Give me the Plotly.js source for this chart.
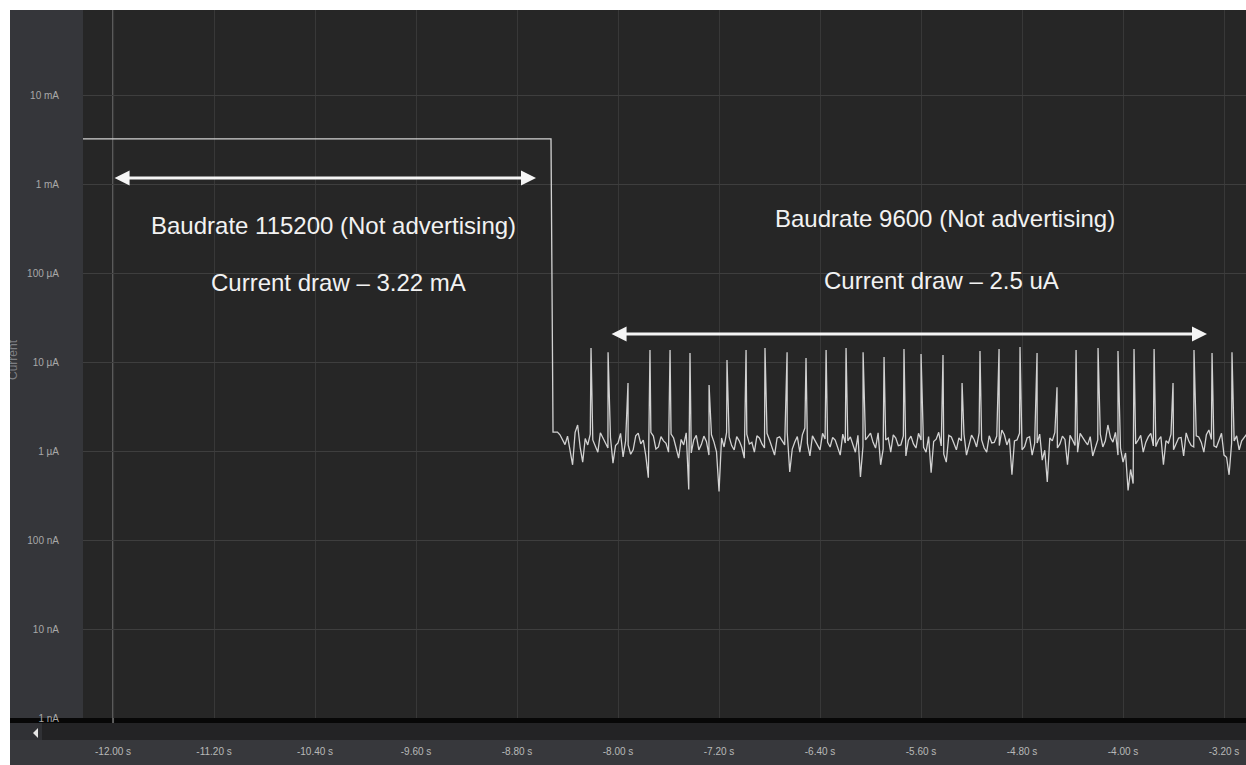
<!DOCTYPE html>
<html>
<head>
<meta charset="utf-8">
<script src="https://cdn.plot.ly/plotly-3.0.1.min.js"></script>
<style>
  html, body { margin: 0; padding: 0; background: #ffffff; }
  #wrap { position: relative; width: 1246px; height: 765px; }
  #chart { width: 1246px; height: 765px; }
  #edge { position: absolute; left: 0; top: 0; width: 10px; height: 765px; background: #ffffff; }
</style>
</head>
<body>
<div id="wrap"><div id="chart"></div><div id="edge"></div></div>
<script>
// ---------------- DATA ----------------
// Time axis ticks (seconds)
const tickTimes  = [-12.0, -11.2, -10.4, -9.6, -8.8, -8.0, -7.2, -6.4, -5.6, -4.8, -4.0, -3.2];
const tickLabels = ["-12.00 s", "-11.20 s", "-10.40 s", "-9.60 s", "-8.80 s", "-8.00 s",
                    "-7.20 s", "-6.40 s", "-5.60 s", "-4.80 s", "-4.00 s", "-3.20 s"];

// Current axis ticks (µA)
const currentTicks  = [0.001, 0.01, 0.1, 1, 10, 100, 1000, 10000];
const currentLabels = ["1 nA", "10 nA", "100 nA", "1 µA", "10 µA", "100 µA", "1 mA", "10 mA"];

// Baudrate 115200 phase: flat 3.22 mA (values in µA)
const activeTime    = [-12.30, -8.531];
const activeCurrent = [3220, 3220];

// Drop to sleep level
const dropTime    = [-8.515];
const dropCurrent = [1.63];

// Baudrate 9600 phase: baseline noise samples (µA)
const noiseTime = [
  -8.48,-8.44,-8.40,-8.36,-8.32,-8.28,-8.24,-8.20,-8.16,-8.12,
  -8.08,-8.04,-8.00,-7.96,-7.92,-7.88,-7.84,-7.80,-7.76,-7.72,
  -7.68,-7.64,-7.60,-7.56,-7.52,-7.48,-7.44,-7.40,-7.36,-7.32,
  -7.28,-7.24,-7.20,-7.16,-7.12,-7.08,-7.04,-7.00,-6.96,-6.92,
  -6.88,-6.84,-6.80,-6.76,-6.72,-6.68,-6.64,-6.60,-6.56,-6.52,
  -6.48,-6.44,-6.40,-6.36,-6.32,-6.28,-6.24,-6.20,-6.16,-6.12,
  -6.08,-6.04,-6.00,-5.96,-5.92,-5.88,-5.84,-5.80,-5.76,-5.72,
  -5.68,-5.64,-5.60,-5.56,-5.52,-5.48,-5.44,-5.40,-5.36,-5.32,
  -5.28,-5.24,-5.20,-5.16,-5.12,-5.08,-5.04,-5.00,-4.96,-4.92,
  -4.88,-4.84,-4.80,-4.76,-4.72,-4.68,-4.64,-4.60,-4.56,-4.52,
  -4.48,-4.44,-4.40,-4.36,-4.32,-4.28,-4.24,-4.20,-4.16,-4.12,
  -4.08,-4.04,-4.00,-3.96,-3.92,-3.88,-3.84,-3.80,-3.76,-3.72,
  -3.68,-3.64,-3.60,-3.56,-3.52,-3.48,-3.44,-3.40,-3.36,-3.32,
  -3.28,-3.24,-3.20,-3.16,-3.12,-3.08,-3.04,-3.00
];
const noiseCurrent = [
  1.63,1.33,1.47,0.70,1.96,0.75,1.17,1.33,0.97,1.40,
  1.08,0.73,1.23,0.86,1.17,1.03,1.59,1.33,0.50,1.47,
  1.11,1.30,0.97,1.40,0.83,1.17,0.37,1.33,1.03,1.47,
  0.90,1.26,0.35,1.11,1.44,1.03,1.30,0.83,1.20,0.97,
  1.40,1.08,1.33,0.90,1.44,1.17,0.58,1.26,0.97,1.81,
  0.88,1.30,1.03,1.36,1.11,1.33,0.90,1.23,1.44,0.97,
  0.51,1.33,1.59,1.08,0.70,1.33,0.97,1.40,1.17,0.88,
  1.47,1.08,1.33,0.97,0.57,1.36,1.14,0.75,1.44,1.03,
  1.30,0.90,1.51,1.11,1.33,0.97,1.23,1.47,1.72,1.17,
  0.54,1.33,1.03,1.40,0.90,1.23,0.79,0.45,1.30,1.08,
  1.47,0.70,1.33,0.97,1.40,1.17,0.88,1.33,1.11,1.96,
  1.26,0.90,0.75,0.36,0.43,1.33,0.97,1.44,1.14,1.33,
  0.70,1.23,1.03,1.40,0.88,1.30,1.11,1.44,0.97,1.72,
  1.14,1.33,0.90,0.54,1.30,1.03,1.40,1.17
];

// Intermediate baseline samples (µA)
const noiseMidTime = [
  -8.46,-8.42,-8.38,-8.34,-8.30,-8.26,-8.22,-8.18,-8.14,-8.10,
  -8.06,-8.02,-7.98,-7.94,-7.90,-7.86,-7.82,-7.78,-7.74,-7.70,
  -7.66,-7.62,-7.58,-7.54,-7.50,-7.46,-7.42,-7.38,-7.34,-7.30,
  -7.26,-7.22,-7.18,-7.14,-7.10,-7.06,-7.02,-6.98,-6.94,-6.90,
  -6.86,-6.82,-6.78,-6.74,-6.70,-6.66,-6.62,-6.58,-6.54,-6.50,
  -6.46,-6.42,-6.38,-6.34,-6.30,-6.26,-6.22,-6.18,-6.14,-6.10,
  -6.06,-6.02,-5.98,-5.94,-5.90,-5.86,-5.82,-5.78,-5.74,-5.70,
  -5.66,-5.62,-5.58,-5.54,-5.50,-5.46,-5.42,-5.38,-5.34,-5.30,
  -5.26,-5.22,-5.18,-5.14,-5.10,-5.06,-5.02,-4.98,-4.94,-4.90,
  -4.86,-4.82,-4.78,-4.74,-4.70,-4.66,-4.62,-4.58,-4.54,-4.50,
  -4.46,-4.42,-4.38,-4.34,-4.30,-4.26,-4.22,-4.18,-4.14,-4.10,
  -4.06,-4.02,-3.98,-3.94,-3.90,-3.86,-3.82,-3.78,-3.74,-3.70,
  -3.66,-3.62,-3.58,-3.54,-3.50,-3.46,-3.42,-3.38,-3.34,-3.30,
  -3.26,-3.22,-3.18,-3.14,-3.10,-3.06,-3.02
];
const noiseMidCurrent = [
  1.52,1.18,1.05,1.62,1.10,1.38,1.55,1.12,1.60,1.25,
  1.42,1.15,1.58,1.30,0.92,1.48,1.20,0.88,1.62,1.05,
  1.45,1.22,1.55,1.08,1.35,1.60,0.95,1.50,1.18,1.28,
  1.52,0.98,1.40,1.62,1.15,1.45,1.10,1.55,1.25,1.48,
  1.20,1.58,1.12,1.40,1.30,1.62,1.05,1.45,1.52,1.22,
  1.48,1.15,1.58,1.25,1.42,1.08,1.55,1.30,1.18,1.50,
  1.12,1.45,1.25,1.60,1.05,1.40,1.52,1.15,1.48,1.32,
  1.20,1.58,1.10,1.45,1.28,1.62,0.92,1.50,1.22,1.40,
  1.55,1.18,1.35,1.60,1.08,1.48,1.25,1.15,1.52,1.38,
  1.30,1.58,1.12,1.45,1.22,1.55,1.02,1.40,1.62,1.20,
  1.35,1.50,1.15,1.58,1.28,1.45,1.10,1.55,1.30,1.42,
  1.62,1.08,0.95,0.62,1.20,1.50,1.25,1.58,1.12,1.45,
  1.30,1.55,1.18,1.42,1.60,1.15,1.48,1.25,1.52,1.35,
  1.10,1.58,0.85,1.22,1.48,1.30,1.55
];

// Baudrate 9600 phase: periodic spikes (µA)
const spikeTime = [
  -8.214,-8.079,-7.921,-7.747,-7.588,-7.430,-7.279,-7.137,-6.986,-6.836,
  -6.661,-6.511,-6.352,-6.194,-6.059,-5.893,-5.735,-5.600,-5.426,-5.275,
  -5.133,-4.982,-4.816,-4.681,-4.523,-4.372,-4.198,-4.040,-3.913,-3.754,
  -3.604,-3.438,-3.295,-3.137
];
const spikeCurrent = [
  14.4,12.9,5.8,13.6,13.6,12.6,5.5,10.5,13.6,14.4,
  12.9,11.1,13.6,14.4,12.9,11.4,14.0,12.3,12.0,5.8,
  13.3,14.0,14.7,12.6,5.2,13.6,14.4,13.3,14.0,14.0,
  5.8,13.6,12.6,12.9
];

// Annotation texts
const leftTitle  = "Baudrate 115200 (Not advertising)";
const leftDraw   = "Current draw \u2013 3.22 mA";
const rightTitle = "Baudrate 9600 (Not advertising)";
const rightDraw  = "Current draw \u2013 2.5 uA";

// Marker / cursor time
const cursorTime = -12.0;

// ---------------- BUILD TRACE ----------------
const sleepPts = [];
noiseTime.forEach((t, i) => sleepPts.push([t, noiseCurrent[i]]));
noiseMidTime.forEach((t, i) => sleepPts.push([t, noiseMidCurrent[i]]));
spikeTime.forEach((t, i) => sleepPts.push([t, spikeCurrent[i]]));
sleepPts.sort((a, b) => a[0] - b[0]);

const xs = activeTime.concat(dropTime, sleepPts.map(p => p[0]));
const ys = activeCurrent.concat(dropCurrent, sleepPts.map(p => p[1]));

const trace = {
  x: xs, y: ys, type: 'scatter', mode: 'lines',
  line: { color: '#d2d2d2', width: 1.3 },
  hoverinfo: 'skip', showlegend: false
};

// ---------------- LAYOUT ----------------
const W = 1246, H = 765;
const px = x => x / W;
const py = y => 1 - y / H;
const rect = (x0, y0, x1, y1, color) => ({
  type: 'rect', xref: 'paper', yref: 'paper',
  x0: px(x0), x1: px(x1), y0: py(y1), y1: py(y0),
  fillcolor: color, line: { width: 0 }, layer: 'below'
});

const annFont = { family: 'Liberation Sans, Arial, sans-serif', size: 24, color: '#f2f2f2' };

const layout = {
  width: W, height: H,
  margin: { l: 0, r: 0, t: 0, b: 0, pad: 0 },
  paper_bgcolor: '#ffffff',
  plot_bgcolor: '#262626',
  showlegend: false,
  xaxis: {
    domain: [px(83), 1],
    range: [-12.238, -3.026],
    tickvals: tickTimes, ticktext: tickLabels,
    showgrid: true, gridcolor: '#383838', gridwidth: 1,
    zeroline: false, showline: false, ticks: '',
    tickfont: { family: 'Liberation Sans, Arial, sans-serif', size: 10, color: '#b8b8b8' },
    ticklabelstandoff: 26,
    fixedrange: true
  },
  yaxis: {
    type: 'log',
    domain: [py(718), py(10)],
    range: [-3, 4.955],
    tickvals: currentTicks, ticktext: currentLabels,
    showgrid: true, gridcolor: '#3e3e3e', gridwidth: 1,
    zeroline: false, showline: false, ticks: '',
    tickfont: { family: 'Liberation Sans, Arial, sans-serif', size: 10, color: '#a8a8a8' },
    ticklabelstandoff: 23,
    fixedrange: true
  },
  shapes: [
    rect(10, 10, 83, 718, '#35363a'),      // left axis panel
    rect(10, 718, W, 723, '#070707'),      // black separator
    rect(10, 723, W, 740, '#232325'),      // scroll track
    rect(10, 723, 42, 740, '#303135'),     // scroll left button
    rect(10, 740, W, H, '#37383c'),        // time label band
    {
      type: 'path', xref: 'paper', yref: 'paper',
      path: `M ${px(38)} ${py(728)} L ${px(33)} ${py(733)} L ${px(38)} ${py(738)} Z`,
      fillcolor: '#e6e6e6', line: { width: 0 }, layer: 'above'
    },
    {
      type: 'line', xref: 'x', yref: 'paper',
      x0: cursorTime, x1: cursorTime, y0: py(723), y1: py(10),
      line: { color: '#5e5e5e', width: 2 }, layer: 'below'
    }
  ],
  annotations: [
    // double arrows
    {
      x: -8.65, y: 3.067, ax: -12.0, ay: 3.067, xref: 'x', yref: 'y', axref: 'x', ayref: 'y',
      text: '', showarrow: true, arrowside: 'end+start', arrowhead: 2, startarrowhead: 2,
      arrowsize: 1, startarrowsize: 1, arrowwidth: 3, arrowcolor: '#f4f4f4'
    },
    {
      x: -3.335, y: 1.315, ax: -8.063, ay: 1.315, xref: 'x', yref: 'y', axref: 'x', ayref: 'y',
      text: '', showarrow: true, arrowside: 'end+start', arrowhead: 2, startarrowhead: 2,
      arrowsize: 1, startarrowsize: 1, arrowwidth: 3, arrowcolor: '#f4f4f4'
    },
    { x: -10.257, y: 2.528, xref: 'x', yref: 'y', text: leftTitle,  showarrow: false, font: annFont },
    { x: -10.218, y: 1.888, xref: 'x', yref: 'y', text: leftDraw,   showarrow: false, font: annFont },
    { x: -5.410,  y: 2.607, xref: 'x', yref: 'y', text: rightTitle, showarrow: false, font: annFont },
    { x: -5.434,  y: 1.921, xref: 'x', yref: 'y', text: rightDraw,  showarrow: false, font: annFont },
    // y-axis title (partly hidden at the panel edge)
    {
      x: px(13), y: py(360), xref: 'paper', yref: 'paper', text: 'Current',
      xanchor: 'center', yanchor: 'middle',
      textangle: -90, showarrow: false,
      font: { family: 'Liberation Sans, Arial, sans-serif', size: 12, color: '#7e7f83' }
    }
  ]
};

Plotly.newPlot('chart', [trace], layout, { displayModeBar: false, staticPlot: true });
</script>
</body>
</html>
